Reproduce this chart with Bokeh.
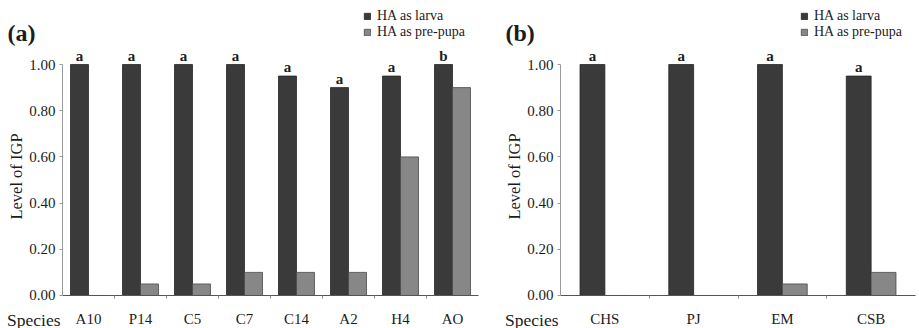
import math
from bokeh.plotting import figure
from bokeh.models import (ColumnDataSource, Range1d, FixedTicker,
                          NumeralTickFormatter, Label, Legend, LegendItem)
from bokeh.transform import dodge
from bokeh.layouts import row
from bokeh.core.properties import value
from bokeh.embed import file_html
from bokeh.resources import INLINE

# Panel (a): level of IGP per species
species_a = ["A10", "P14", "C5", "C7", "C14", "A2", "H4", "AO"]
larva_a = [1.00, 1.00, 1.00, 1.00, 0.95, 0.90, 0.95, 1.00]
prepupa_a = [0.00, 0.05, 0.05, 0.10, 0.10, 0.10, 0.60, 0.90]
letters_a = ["a", "a", "a", "a", "a", "a", "a", "b"]

# Panel (b)
species_b = ["CHS", "PJ", "EM", "CSB"]
larva_b = [1.00, 1.00, 1.00, 0.95]
prepupa_b = [0.00, 0.00, 0.05, 0.10]
letters_b = ["a", "a", "a", "a"]

y_ticks = [0.0, 0.2, 0.4, 0.6, 0.8, 1.0]
series_names = ["HA as larva", "HA as pre-pupa"]

FONT = "Liberation Serif"
DARK = "#3a3a3a"
LIGHT = "#878787"
TEXT = "#1c1c1c"
HEIGHT = 328
Y_START, Y_END = -0.1429, 1.2771  # room below for labels, above for legend


def make_panel(tag, cats, larva, prepupa, letters, width, left_px, right_px,
               bar_w, legend_x):
    n = len(cats)
    pos = list(range(1, n + 1))
    src = ColumnDataSource(dict(pos=pos, larva=larva, prepupa=prepupa,
                                letters=letters))
    plot_w = width - left_px - right_px
    unit = plot_w / n
    x_start = 0.5 - left_px / unit
    x_end = n + 0.5 + right_px / unit

    p = figure(x_range=Range1d(x_start, x_end), y_range=Range1d(Y_START, Y_END),
               width=width, height=HEIGHT, output_backend="svg",
               toolbar_location=None, title=None,
               min_border_left=0, min_border_right=0,
               min_border_top=0, min_border_bottom=0)
    p.outline_line_color = None
    p.grid.visible = False
    p.background_fill_color = "white"
    p.border_fill_color = "white"

    r1 = p.vbar(x=dodge("pos", -bar_w / 2), top="larva", width=bar_w,
                source=src, fill_color=DARK, line_color="#262626",
                line_width=0.8)
    r2 = p.vbar(x=dodge("pos", bar_w / 2), top="prepupa", width=bar_w,
                source=src, fill_color=LIGHT, line_color="#4a4a4a",
                line_width=0.8)

    # significance letters above the larva bars
    p.text(x=dodge("pos", -bar_w / 2), y="larva", text="letters", source=src,
           text_font=value(FONT), text_font_size="15px",
           text_font_style="bold", text_color=TEXT, text_align="center",
           text_baseline="bottom", y_offset=-1)

    # y axis pinned at the left edge of the first group
    ya = p.yaxis[0]
    ya.fixed_location = 0.5
    ya.bounds = (0, 1)
    ya.ticker = FixedTicker(ticks=y_ticks)
    ya.formatter = NumeralTickFormatter(format="0.00")
    ya.axis_line_color = "#9a9a9a"
    ya.major_tick_line_color = "#9a9a9a"
    ya.major_tick_out = 3
    ya.major_tick_in = 0
    ya.minor_tick_line_color = None
    ya.major_label_standoff = 4
    ya.major_label_text_font = FONT
    ya.major_label_text_font_size = "15px"
    ya.major_label_text_color = TEXT

    # x axis pinned at zero, species names at group centres
    xa = p.xaxis[0]
    xa.fixed_location = 0
    xa.bounds = (0.5, n + 0.5)
    xa.ticker = FixedTicker(ticks=pos,
                            minor_ticks=[k + 0.5 for k in range(1, n)])
    xa.major_label_overrides = {k: c for k, c in zip(pos, cats)}
    xa.axis_line_color = "#555555"
    xa.major_tick_line_color = None
    xa.minor_tick_line_color = "#888888"
    xa.minor_tick_out = 3
    xa.minor_tick_in = 0
    xa.major_label_standoff = 10
    xa.major_label_text_font = FONT
    xa.major_label_text_font_size = "15px"
    xa.major_label_text_color = TEXT

    # axis title, "Species" caption and panel tag
    p.add_layout(Label(x=left_px - 46, y=HEIGHT - 176, x_units="screen",
                       y_units="screen", angle=math.pi / 2,
                       text="Level of IGP", text_font=FONT,
                       text_font_size="16.5px", text_color=TEXT,
                       text_align="center", text_baseline="middle"))
    p.add_layout(Label(x=left_px - 2, y=9, x_units="screen", y_units="screen",
                       text="Species", text_font=FONT,
                       text_font_size="17.5px", text_color=TEXT,
                       text_align="right", text_baseline="alphabetic"))
    p.add_layout(Label(x=left_px - 55, y=HEIGHT - 32, x_units="screen",
                       y_units="screen", text=tag, text_font=FONT,
                       text_font_size="24px", text_font_style="bold",
                       text_color=TEXT, text_align="left",
                       text_baseline="alphabetic"))

    legend = Legend(items=[LegendItem(label=series_names[0], renderers=[r1]),
                           LegendItem(label=series_names[1], renderers=[r2])],
                    location=(legend_x, HEIGHT - 40), orientation="vertical",
                    glyph_width=8, glyph_height=8, label_standoff=6,
                    label_height=13, spacing=0, padding=0, margin=0,
                    border_line_color=None, background_fill_alpha=0,
                    label_text_font=FONT, label_text_font_size="14px",
                    label_text_color=TEXT)
    p.add_layout(legend, "center")
    return p


pa = make_panel("(a)", species_a, larva_a, prepupa_a, letters_a,
                width=490, left_px=62, right_px=12, bar_w=0.346,
                legend_x=363)
pb = make_panel("(b)", species_b, larva_b, prepupa_b, letters_b,
                width=429, left_px=70, right_px=4, bar_w=0.28,
                legend_x=310)

layout = row(pa, pb, spacing=0)
open("out.html", "w").write(file_html(layout, INLINE))
